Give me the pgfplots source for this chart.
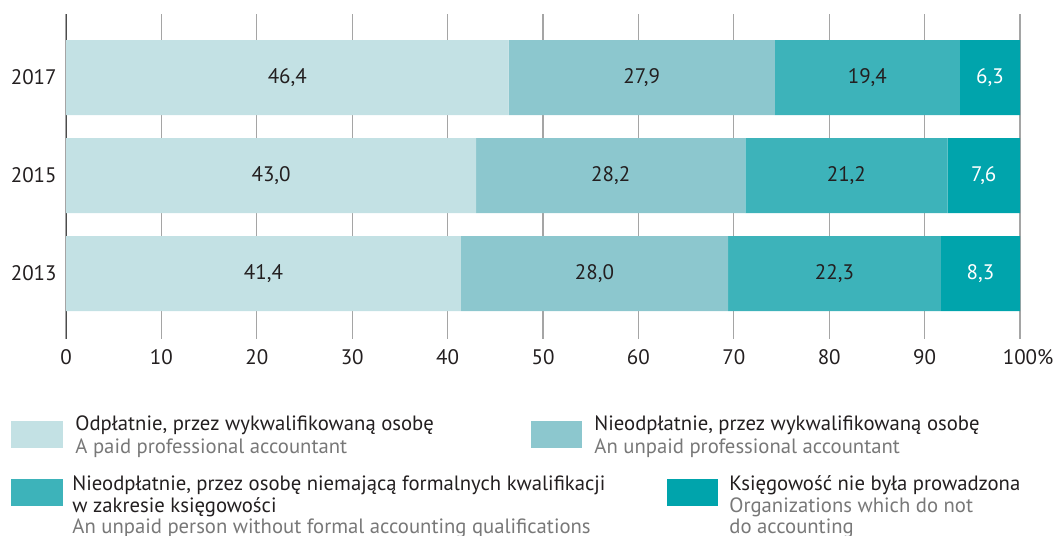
\documentclass[border=0pt]{standalone}
\usepackage{fontspec}
\setmainfont{PT Sans}
\usepackage{pgfplots}
\pgfplotsset{compat=1.18}
\usepackage{pgfplotstable}
\definecolor{cA}{RGB}{195,225,228}
\definecolor{cB}{RGB}{140,199,206}
\definecolor{cC}{RGB}{61,179,186}
\definecolor{cD}{RGB}{0,164,172}
\definecolor{txt}{RGB}{35,31,32}
\definecolor{sub}{RGB}{120,120,120}
\definecolor{gridc}{RGB}{165,165,165}

% shares (%), pos 0 = 2013, 1 = 2015, 2 = 2017
\pgfplotstableread{
pos a b c d
0 41.4 28.0 22.3 8.3
1 43.0 28.2 21.2 7.6
2 46.4 27.9 19.4 6.3
}\shares

\begin{document}
\begin{tikzpicture}
\useasboundingbox (0,0) rectangle (528pt,268pt);
\pgfplotsset{base/.style={
  scale only axis, width=477pt, height=162.5pt,
  at={(33pt,98.5pt)}, anchor=south west,
  xmin=0, xmax=100, ymin=-0.668, ymax=2.648}}
\begin{axis}[base,
  xbar stacked, bar width=37.5pt,
  axis line style={draw=none},
  xmajorgrids, major grid style={draw=gridc, line width=0.6pt},
  major tick length=0pt,
  xtick={0,10,...,100},
  xticklabels={0,10,20,30,40,50,60,70,80,90,100\makebox[0pt][l]{\%}},
  ytick={0,1,2}, yticklabels={2013,2015,2017},
  tick label style={font=\fontsize{10.5}{12}\selectfont, text=txt, inner sep=0pt},
  x tick label style={yshift=-5pt},
  y tick label style={xshift=-4.5pt},
]
\addplot[fill=cA, draw=none] table[x=a, y=pos] {\shares};
\addplot[fill=cB, draw=none] table[x=b, y=pos] {\shares};
\addplot[fill=cC, draw=none] table[x=c, y=pos] {\shares};
\addplot[fill=cD, draw=none] table[x=d, y=pos] {\shares};
\draw[gray!60!black, line width=0.6pt] (rel axis cs:0,0) -- (rel axis cs:0,1);
\end{axis}

% value labels centred in each segment
\begin{axis}[base, hide axis,
  nodes near coords={\pgfmathprintnumber[fixed,fixed zerofill,precision=1,use comma,assume math mode=true]{\pgfplotspointmeta}},
  every node near coord/.style={anchor=center, font=\fontsize{10.5}{12}\selectfont, inner sep=0pt},
]
\addplot[draw=none, point meta=explicit, every node near coord/.append style={text=txt}]
  table[x expr=\thisrow{a}/2, y=pos, meta=a] {\shares};
\addplot[draw=none, point meta=explicit, every node near coord/.append style={text=txt}]
  table[x expr=\thisrow{a}+\thisrow{b}/2, y=pos, meta=b] {\shares};
\addplot[draw=none, point meta=explicit, every node near coord/.append style={text=txt}]
  table[x expr=\thisrow{a}+\thisrow{b}+\thisrow{c}/2, y=pos, meta=c] {\shares};
\addplot[draw=none, point meta=explicit, every node near coord/.append style={text=white}]
  table[x expr=100-\thisrow{d}/2, y=pos, meta=d] {\shares};
\end{axis}

% legend
\begin{scope}[x=0.5pt, y=-0.5pt, shift={(0,268pt)},
  every node/.style={anchor=base west, inner sep=0pt, font=\fontsize{10.35}{12}\selectfont}]
\fill[cA] (11,421) rectangle (63,448);
\node[text=txt] at (75,431) {Odpłatnie, przez wykwalifikowaną osobę};
\node[text=sub] at (75,453) {A paid professional accountant};
\fill[cB] (531,421) rectangle (582,448);
\node[text=txt] at (594,431) {Nieodpłatnie, przez wykwalifikowaną osobę};
\node[text=sub] at (594,453) {An unpaid professional accountant};
\fill[cC] (11,479) rectangle (63,506);
\node[text=txt] at (72,491) {Nieodpłatnie, przez osobę niemającą formalnych kwalifikacji};
\node[text=txt] at (72,512) {w zakresie księgowości};
\node[text=sub] at (72,533) {An unpaid person without formal accounting qualifications};
\fill[cD] (667,479) rectangle (718,506);
\node[text=txt] at (729,491) {Księgowość nie była prowadzona};
\node[text=sub] at (729,512) {Organizations which do not};
\node[text=sub] at (729,533) {do accounting};
\end{scope}
\end{tikzpicture}
\end{document}
